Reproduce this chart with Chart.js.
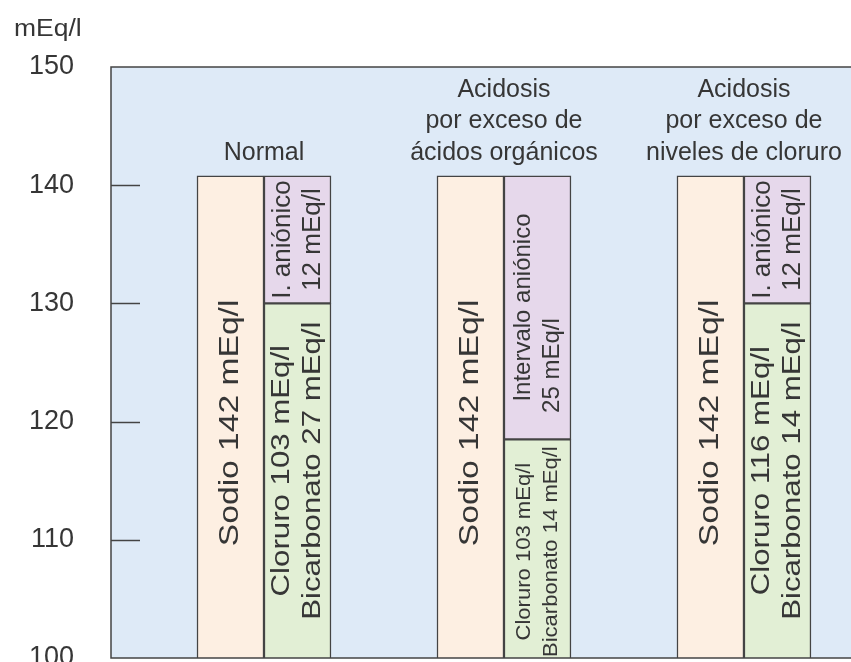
<!DOCTYPE html>
<html lang="es">
<head>
  <meta charset="UTF-8">
  <title>Intervalo aniónico</title>
  <script src="https://cdn.jsdelivr.net/npm/chart.js@4.4.1/dist/chart.umd.min.js"></script>
  <style>
    html, body { margin: 0; padding: 0; background: #fff; overflow: hidden; }
    #wrap { width: 851px; height: 662px; }
  </style>
</head>
<body>
  <div id="wrap"><canvas id="chart" width="851" height="662"></canvas></div>
  <script>
    // Grupos (x = 0, 1, 2)
    var grupos = [
      ['Normal'],
      ['Acidosis', 'por exceso de', 'ácidos orgánicos'],
      ['Acidosis', 'por exceso de', 'niveles de cloruro']
    ];
    // Alturas (mEq/l)
    var sodio = [140.8, 140.8, 140.8];
    var cloruroBicarbonato = [130, 118.5, 130];
    var intervaloAnionico = [10.8, 22.3, 10.8];
    var ticksY = [100, 110, 120, 130, 140, 150];

    // Textos de las columnas
    var textoSodio = [['Sodio 142 mEq/l'], ['Sodio 142 mEq/l'], ['Sodio 142 mEq/l']];
    var textoCloruro = [
      ['Cloruro 103 mEq/l', 'Bicarbonato 27 mEq/l'],
      ['Cloruro 103 mEq/l', 'Bicarbonato 14 mEq/l'],
      ['Cloruro 116 mEq/l', 'Bicarbonato 14 mEq/l']
    ];
    var textoIntervalo = [
      ['I. aniónico', '12 mEq/l'],
      ['Intervalo aniónico', '25 mEq/l'],
      ['I. aniónico', '12 mEq/l']
    ];

    var FONT = '"Liberation Sans", Arial, sans-serif';
    var TEXTO = '#363636';
    var LINEA = '#444';

    function puntos(valores) {
      return valores.map(function (v, i) { return { x: i, y: v }; });
    }

    // texto girado 90 grados, se lee de abajo hacia arriba
    // desp: desplazamiento de cada linea a lo largo del texto (px, hacia abajo)
    function vertical(ctx, lineas, cx, cy, size, lh, estira, desp) {
      ctx.save();
      ctx.translate(cx, cy);
      ctx.rotate(-Math.PI / 2);
      ctx.scale(estira || 1, 1);
      ctx.font = size + 'px ' + FONT;
      ctx.fillStyle = TEXTO;
      ctx.textAlign = 'center';
      ctx.textBaseline = 'middle';
      var y0 = -(lineas.length - 1) * lh / 2;
      lineas.forEach(function (t, k) {
        var d = desp ? desp[k] : 0;
        ctx.fillText(t, -d / (estira || 1), y0 + k * lh);
      });
      ctx.restore();
    }

    var dibujos = {
      id: 'dibujos',
      beforeDraw: function (chart) {
        var a = chart.chartArea, ctx = chart.ctx, y = chart.scales.y;
        ctx.save();
        ctx.fillStyle = '#deeaf7';
        ctx.fillRect(a.left, a.top, a.right - a.left, a.bottom - a.top);
        // marcas del eje hacia dentro
        ctx.strokeStyle = LINEA;
        ctx.lineWidth = 1.5;
        ticksY.slice(1, -1).forEach(function (v) {
          var py = Math.round(y.getPixelForValue(v)) + 0.5;
          ctx.beginPath();
          ctx.moveTo(a.left, py);
          ctx.lineTo(a.left + 29, py);
          ctx.stroke();
        });
        // unidad
        ctx.translate(14, 36);
        ctx.scale(1.15, 1);
        ctx.font = '23px ' + FONT;
        ctx.fillStyle = TEXTO;
        ctx.textAlign = 'left';
        ctx.textBaseline = 'alphabetic';
        ctx.fillText('mEq/l', 0, 0);
        ctx.restore();
      },
      afterDatasetsDraw: function (chart) {
        var a = chart.chartArea, ctx = chart.ctx, x = chart.scales.x;
        var na = chart.getDatasetMeta(0).data;
        var cl = chart.getDatasetMeta(1).data;
        var ag = chart.getDatasetMeta(2).data;

        // marco
        ctx.save();
        ctx.strokeStyle = LINEA;
        ctx.lineWidth = 1.5;
        ctx.beginPath();
        ctx.moveTo(a.right, a.top);
        ctx.lineTo(a.left, a.top);
        ctx.lineTo(a.left, a.bottom);
        ctx.lineTo(a.right, a.bottom);
        ctx.stroke();
        ctx.restore();

        function centro(bar) {
          var fondo = Math.min(bar.base, a.bottom);
          return [bar.x, (bar.y + fondo) / 2];
        }

        for (var i = 0; i < grupos.length; i++) {
          var c = centro(na[i]);
          vertical(ctx, textoSodio[i], c[0], c[1] + 6, 28, 30, 1.2);

          c = centro(cl[i]);
          var bajo = (a.bottom - cl[i].y) < 260;
          if (bajo) vertical(ctx, textoCloruro[i], c[0], c[1] + 3, 21, 27, 1.05);
          else vertical(ctx, textoCloruro[i], c[0], c[1] - 10, 26, 31, 1.2);

          c = centro(ag[i]);
          var alto = (ag[i].base - ag[i].y) > 200;
          if (alto) vertical(ctx, textoIntervalo[i], c[0], c[1], 24, 29, 1, [0, 58]);
          else vertical(ctx, textoIntervalo[i], c[0], c[1], 26, 30, 1);

          // titulos de cada grupo
          ctx.save();
          ctx.font = '25px ' + FONT;
          ctx.fillStyle = TEXTO;
          ctx.textAlign = 'center';
          ctx.textBaseline = 'middle';
          var cx = x.getPixelForValue(i);
          var n = grupos[i].length;
          grupos[i].forEach(function (t, k) {
            ctx.fillText(t, cx, na[i].y - 23 - (n - 1 - k) * 31.5);
          });
          ctx.restore();
        }
      }
    };

    var ctx = document.getElementById('chart').getContext('2d');
    var chart = new Chart(ctx, {
      type: 'bar',
      data: {
        datasets: [{
          label: 'Sodio',
          data: puntos(sodio),
          stack: 'cationes',
          backgroundColor: '#fdefe2'
        }, {
          label: 'Cloruro y bicarbonato',
          data: puntos(cloruroBicarbonato),
          stack: 'aniones',
          backgroundColor: '#e2efd5'
        }, {
          label: 'Intervalo aniónico',
          data: puntos(intervaloAnionico),
          stack: 'aniones',
          backgroundColor: '#e6d8eb'
        }]
      },
      options: {
        responsive: false,
        animation: false,
        layout: { padding: { top: 67, right: 0, bottom: 4, left: 0 } },
        datasets: {
          bar: { barThickness: 67, borderColor: LINEA, borderWidth: 1.5, borderSkipped: false }
        },
        plugins: { legend: { display: false }, tooltip: { enabled: false } },
        scales: {
          x: {
            type: 'linear',
            display: false,
            offset: false,
            min: -0.6375,
            max: 2.446,
            grid: { display: false }
          },
          y: {
            stacked: true,
            min: 100,
            max: 150,
            grid: { display: false, drawTicks: false },
            border: { display: false },
            afterBuildTicks: function (s) { s.ticks = ticksY.map(function (v) { return { value: v }; }); },
            afterFit: function (s) { s.width = 111; s.paddingTop = 0; s.paddingBottom = 0; },
            ticks: {
              padding: 37,
              color: TEXTO,
              font: { family: FONT, size: 27 }
            }
          }
        }
      },
      plugins: [dibujos]
    });
  </script>
</body>
</html>
